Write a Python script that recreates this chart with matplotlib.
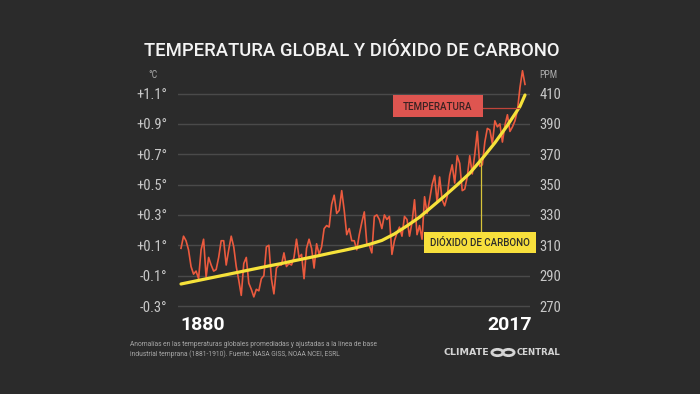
import matplotlib
matplotlib.use("Agg")
import matplotlib.pyplot as plt
from matplotlib.patches import Rectangle, Circle
from matplotlib.lines import Line2D

# ---------------- data ----------------
temp_years = list(range(1880, 2018))
temp_anom = [
    0.08, 0.16, 0.13, 0.07, -0.04, -0.09, -0.07, -0.12, 0.07, 0.14,
    -0.11, 0.02, -0.03, -0.07, -0.06, 0.02, 0.13, 0.13, -0.03, 0.07,
    0.16, 0.09, -0.04, -0.13, -0.23, -0.02, 0.02, -0.15, -0.19, -0.24,
    -0.19, -0.20, -0.12, -0.10, 0.09, 0.10, -0.12, -0.22, -0.05, -0.03,
    -0.03, 0.05, -0.04, -0.02, -0.03, 0.02, 0.14, 0.02, 0.04, -0.12,
    0.08, 0.14, 0.08, -0.05, 0.11, 0.04, 0.09, 0.21, 0.23, 0.22,
    0.37, 0.43, 0.31, 0.33, 0.46, 0.33, 0.17, 0.21, 0.13, 0.13,
    0.07, 0.17, 0.25, 0.32, 0.11, 0.10, 0.05, 0.29, 0.30, 0.27,
    0.21, 0.30, 0.27, 0.29, 0.04, 0.13, 0.18, 0.22, 0.16, 0.29,
    0.27, 0.16, 0.25, 0.40, 0.17, 0.23, 0.14, 0.42, 0.31, 0.40,
    0.50, 0.56, 0.38, 0.55, 0.40, 0.36, 0.42, 0.56, 0.63, 0.51,
    0.69, 0.64, 0.46, 0.47, 0.55, 0.69, 0.57, 0.70, 0.85, 0.62,
    0.63, 0.78, 0.87, 0.86, 0.77, 0.92, 0.88, 0.90, 0.78, 0.89,
    0.96, 0.85, 0.88, 0.92, 0.99, 1.14, 1.25, 1.16,
]

co2_years = [1880, 1885, 1890, 1895, 1900, 1905, 1910, 1915, 1920, 1925,
             1930, 1935, 1940, 1945, 1950, 1955, 1960, 1965, 1970, 1975,
             1980, 1985, 1990, 1995, 2000, 2005, 2010, 2015, 2017]
co2_ppm = [284.5, 286.2, 287.9, 289.6, 291.3, 293.0, 294.7, 296.4, 298.0, 299.8,
           301.5, 303.2, 305.0, 306.7, 308.5, 310.6, 313.2, 317.5, 322.8, 328.5,
           335.5, 342.5, 349.8, 357.5, 367.2, 377.5, 389.0, 401.5, 409.0]

temp_ticks = [-0.3, -0.1, 0.1, 0.3, 0.5, 0.7, 0.9, 1.1]
temp_tick_labels = ["-0.3°", "-0.1°", "+0.1°", "+0.3°", "+0.5°", "+0.7°", "+0.9°", "+1.1°"]
ppm_ticks = [270, 290, 310, 330, 350, 370, 390, 410]
ppm_tick_labels = [str(v) for v in ppm_ticks]

title = "TEMPERATURA GLOBAL Y DIÓXIDO DE CARBONO"
footnote = ("Anomalías en las temperaturas globales promediadas y ajustadas a la línea de base\n"
            "industrial temprana (1881-1910). Fuente: NASA GISS, NOAA NCEI, ESRL")

# ---------------- style ----------------
BG = "#2b2b2b"
GRID = "#4a4a4a"
TICK = "#c8c8c8"
RED = "#eb5a3e"
YEL = "#f6e23a"
RED_BOX = "#de5550"
YEL_BOX = "#f8e03c"
NARROW = ["Liberation Sans Narrow", "Roboto Condensed", "Roboto", "DejaVu Sans"]

W, H = 700, 394
fig = plt.figure(figsize=(W / 100, H / 100), dpi=100, facecolor=BG)

def fx(px):
    return px / W

def fy(py):
    return 1 - py / H

# axes geometry in pixels
ax_l, ax_r, ax_t, ax_b = 178, 530, 60, 315
x_start, x_end = 181, 525
k = (temp_years[-1] - temp_years[0]) / (x_end - x_start)
xlim = (temp_years[0] - (x_start - ax_l) * k, temp_years[-1] + (ax_r - x_end) * k)
y_top_tick, y_bot_tick = 93.5, 306.0
ppu = (y_bot_tick - y_top_tick) / (1.1 - (-0.3))
ylim = (-0.3 - (ax_b - y_bot_tick) / ppu, 1.1 + (y_top_tick - ax_t) / ppu)

ax = fig.add_axes([fx(ax_l), fy(ax_b), (ax_r - ax_l) / W, (ax_b - ax_t) / H])
ax.set_facecolor(BG)
ax.set_xlim(*xlim)
ax.set_ylim(*ylim)
for s in ax.spines.values():
    s.set_visible(False)
ax.set_xticks([])
ax.set_yticks(temp_ticks)
ax.set_yticklabels(temp_tick_labels, family=NARROW, fontsize=10.5, color=TICK)
ax.tick_params(axis="y", length=0, pad=8)
ax.grid(axis="y", color=GRID, linewidth=1.0)
ax.set_axisbelow(True)
ax.plot(temp_years, temp_anom, color=RED, linewidth=1.2, solid_joinstyle="round", zorder=3)

ax2 = ax.twinx()
ax2.set_ylim(270 + (ylim[0] + 0.3) * 100, 270 + (ylim[1] + 0.3) * 100)
ax2.patch.set_visible(False)
for s in ax2.spines.values():
    s.set_visible(False)
ax2.set_yticks(ppm_ticks)
ax2.set_yticklabels(ppm_tick_labels, family=NARROW, fontsize=10.5, color=TICK)
ax2.tick_params(axis="y", length=0, pad=7)
ax2.plot(co2_years, co2_ppm, color=YEL, linewidth=2.3, solid_capstyle="round", zorder=4)

# ---------------- texts ----------------
fig.text(fx(144), fy(50.5), title, family=["Roboto", "DejaVu Sans"], weight="medium",
         fontsize=13.3, color="#f4f4f4", ha="left", va="center")
fig.text(fx(153), fy(75), "°C", family=NARROW, fontsize=7, color="#aaaaaa", ha="center", va="center")
fig.text(fx(548), fy(75), "PPM", family=NARROW, fontsize=7, color="#aaaaaa", ha="center", va="center")
fig.text(fx(180), fy(325), str(temp_years[0]), family=["Roboto", "DejaVu Sans"], weight="bold",
         fontsize=14, color="#ffffff", ha="left", va="center")
fig.text(fx(532), fy(325), str(temp_years[-1]), family=["Roboto", "DejaVu Sans"], weight="bold",
         fontsize=14, color="#ffffff", ha="right", va="center")
fig.text(fx(130), fy(349.5), footnote, family=["Roboto", "DejaVu Sans"], fontsize=4.8,
         color="#a8a8a8", ha="left", va="center", linespacing=1.25)

# label boxes and leader lines
fig.add_artist(Line2D([fx(483), fx(519)], [fy(107.5), fy(107.5)], color="#c0443a", lw=0.9,
                      transform=fig.transFigure, zorder=5))
fig.add_artist(Rectangle((fx(393), fy(117)), 90 / W, 22 / H, transform=fig.transFigure,
                         facecolor=RED_BOX, edgecolor="none", zorder=6))
fig.text(fx(438), fy(106.5), "TEMPERATURA", family=["Roboto", "DejaVu Sans"], weight="medium",
         fontsize=7, color="#3a2222", ha="center", va="center", zorder=7)

fig.add_artist(Line2D([fx(480.7), fx(480.7)], [fy(160), fy(232)], color="#d8c43a", lw=0.9,
                      transform=fig.transFigure, zorder=5))
fig.add_artist(Rectangle((fx(424), fy(253)), 112 / W, 21 / H, transform=fig.transFigure,
                         facecolor=YEL_BOX, edgecolor="none", zorder=6))
fig.text(fx(480), fy(242.5), "DIÓXIDO DE CARBONO", family=["Roboto", "DejaVu Sans"], weight="medium",
         fontsize=7, color="#2b2b2b", ha="center", va="center", zorder=7)

# logo
LOGO = "#d4d4d4"
fig.text(fx(443), fy(352.5), "CLIMATE", family="DejaVu Sans", weight="bold", fontsize=6.8,
         color=LOGO, ha="left", va="center")
fig.text(fx(560), fy(352.5), "CENTRAL", family="DejaVu Sans", weight="bold", fontsize=6.2,
         color=LOGO, ha="right", va="center")
for cxp in (497.5, 508.5):
    fig.add_artist(Circle((fx(cxp), fy(352.5)), 5.6 / W, transform=fig.transFigure,
                          facecolor="none", edgecolor=LOGO, lw=2.0))

fig.savefig("out.png", dpi=100, facecolor=BG)
